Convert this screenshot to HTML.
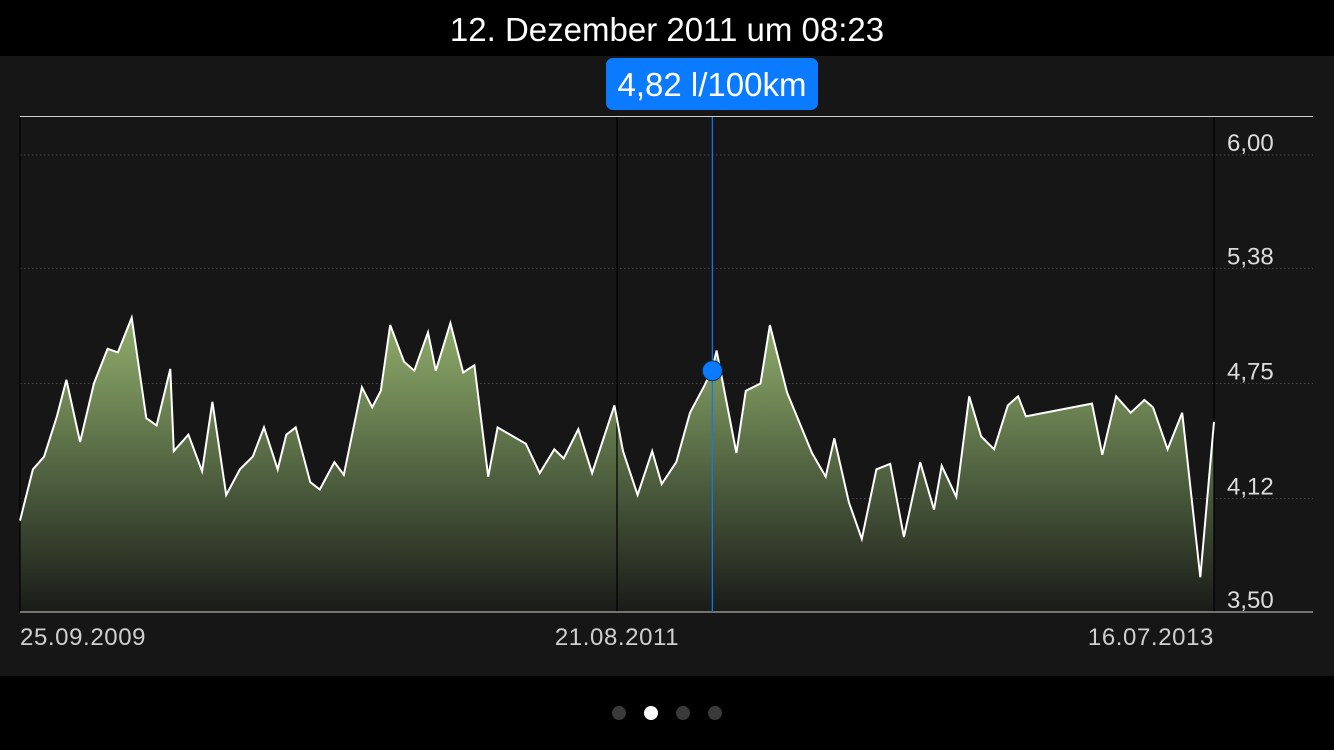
<!DOCTYPE html>
<html><head><meta charset="utf-8">
<style>
html,body{margin:0;padding:0;background:#000;}
body{width:1334px;height:750px;position:relative;overflow:hidden;font-family:"Liberation Sans",sans-serif;}
#title{position:absolute;left:0;top:0;width:1334px;height:56px;line-height:60px;text-align:center;color:#fff;font-size:33px;background:#000;}
#panel{position:absolute;left:0;top:56px;width:1334px;height:620px;background:#161616;}
#badge{position:absolute;left:606px;top:58px;width:212px;height:52px;background:#0a7aff;border-radius:7px;color:#fff;font-size:33px;line-height:54px;text-align:center;}
.dot{position:absolute;top:706px;width:14px;height:14px;border-radius:7px;background:#3a3a3a;}
svg{position:absolute;left:0;top:0;}
</style></head>
<body>
<div id="title">12. Dezember 2011 um 08:23</div>
<div id="panel"></div>
<svg id="chart" width="1334" height="750">
<defs>
<linearGradient id="fillg" x1="0" y1="117" x2="0" y2="612" gradientUnits="userSpaceOnUse">
<stop offset="0.40" stop-color="#93ae6d"/>
<stop offset="0.55" stop-color="#748c58"/>
<stop offset="0.75" stop-color="#4a5a3c"/>
<stop offset="1" stop-color="#1a1b18"/>
</linearGradient>
</defs>
</svg>
<div id="badge">4,82 l/100km</div>
<div class="dot" style="left:612px"></div>
<div class="dot" style="left:644px;background:#fff"></div>
<div class="dot" style="left:676px"></div>
<div class="dot" style="left:708px"></div>
<script>
const days=[0,15,28,43,54,70,86,102,114,130,147,159,175,179,196,212,224,240,256,271,284,300,310,321,338,349,366,377,398,410,420,431,447,459,475,484,501,516,529,545,556,589,605,622,633,650,666,692,702,719,736,747,764,780,797,806,811,834,845,862,873,893,922,938,948,965,980,997,1013,1029,1048,1064,1073,1090,1105,1119,1134,1150,1162,1171,1248,1260,1276,1293,1309,1319,1336,1353,1374,1390];
const values=[4.00,4.28,4.35,4.57,4.77,4.43,4.75,4.94,4.92,5.11,4.56,4.52,4.83,4.38,4.47,4.27,4.65,4.14,4.28,4.35,4.51,4.28,4.47,4.51,4.21,4.17,4.32,4.25,4.73,4.62,4.71,5.07,4.87,4.82,5.03,4.82,5.08,4.81,4.85,4.24,4.51,4.42,4.26,4.39,4.34,4.50,4.26,4.63,4.38,4.14,4.38,4.20,4.32,4.59,4.74,4.83,4.93,4.37,4.71,4.75,5.07,4.70,4.37,4.24,4.45,4.10,3.90,4.28,4.31,3.91,4.32,4.06,4.30,4.13,4.68,4.46,4.39,4.63,4.68,4.57,4.64,4.36,4.68,4.59,4.66,4.62,4.39,4.59,3.69,4.54];
const yTicks=[3.50,4.12,4.75,5.38,6.00];
const yTickLabels=["3,50","4,12","4,75","5,38","6,00"];
const xTickDays=[0,695,1390];
const xTickLabels=["25.09.2009","21.08.2011","16.07.2013"];
const selectedDay=806;
const selectedValue=4.82;

const X0=20,X1=1214,Y0=612,Y1=155,DMAX=1390,VMIN=3.5,VMAX=6.0;
const xs=d=>X0+(d/DMAX)*(X1-X0);
const ys=v=>Y0-(v-VMIN)/(VMAX-VMIN)*(Y0-Y1);
const NS="http://www.w3.org/2000/svg";
const svgEl=document.getElementById('chart');
function mk(tag,attrs){const e=document.createElementNS(NS,tag);for(const k in attrs)e.setAttribute(k,attrs[k]);svgEl.appendChild(e);return e;}

yTicks.forEach((t,i)=>{
  if(i>0){
    const g=mk('line',{x1:X0,x2:1313,y1:ys(t),y2:ys(t),stroke:'#4a4a4a','stroke-width':1,'stroke-dasharray':'1.5,2.5'});
    
    
  }
  const tx=mk('text',{x:1227,y:ys(t)-4,fill:'#dcdcdc','font-size':24,'font-family':'Liberation Sans, sans-serif'});
  tx.textContent=yTickLabels[i];
  
  
});
let d='M'+xs(days[0])+','+Y0;
days.forEach((dd,i)=>{d+=' L'+xs(dd).toFixed(1)+','+ys(values[i]).toFixed(1);});
d+=' L'+xs(days[days.length-1])+','+Y0+' Z';
const area=mk('path',{d:d,fill:'url(#fillg)'});


xTickDays.forEach((t,i)=>{
  const l=mk('line',{x1:xs(t),x2:xs(t),y1:117,y2:Y0,stroke:'#000','stroke-width':1.2});
  
  
  const tx=mk('text',{x:xs(t),y:645,fill:'#cfcfcf','font-size':24,'letter-spacing':0.6,'font-family':'Liberation Sans, sans-serif','text-anchor':i==0?'start':(i==xTickDays.length-1?'end':'middle')});
  tx.textContent=xTickLabels[i];
  
  
});
let p='';
days.forEach((dd,i)=>{p+=(i?' L':'M')+xs(dd).toFixed(1)+','+ys(values[i]).toFixed(1);});
const ln=mk('path',{d:p,fill:'none',stroke:'#fff','stroke-width':2,'stroke-linejoin':'miter'});


const topLine=mk('line',{x1:X0,x2:1313,y1:116.5,y2:116.5,stroke:'#cfcfcf','stroke-width':1});


const botLine=mk('line',{x1:X0,x2:1313,y1:Y0,y2:Y0,stroke:'#cfcfcf','stroke-width':1});


const cx=xs(selectedDay);
const cur=mk('line',{x1:cx,x2:cx,y1:117,y2:Y0,stroke:'#0a7aff','stroke-width':1.2});


const c=mk('circle',{cx:cx,cy:ys(selectedValue),r:10,fill:'#0a7aff',stroke:'#0a2a55','stroke-width':1});


</script>
</body></html>
